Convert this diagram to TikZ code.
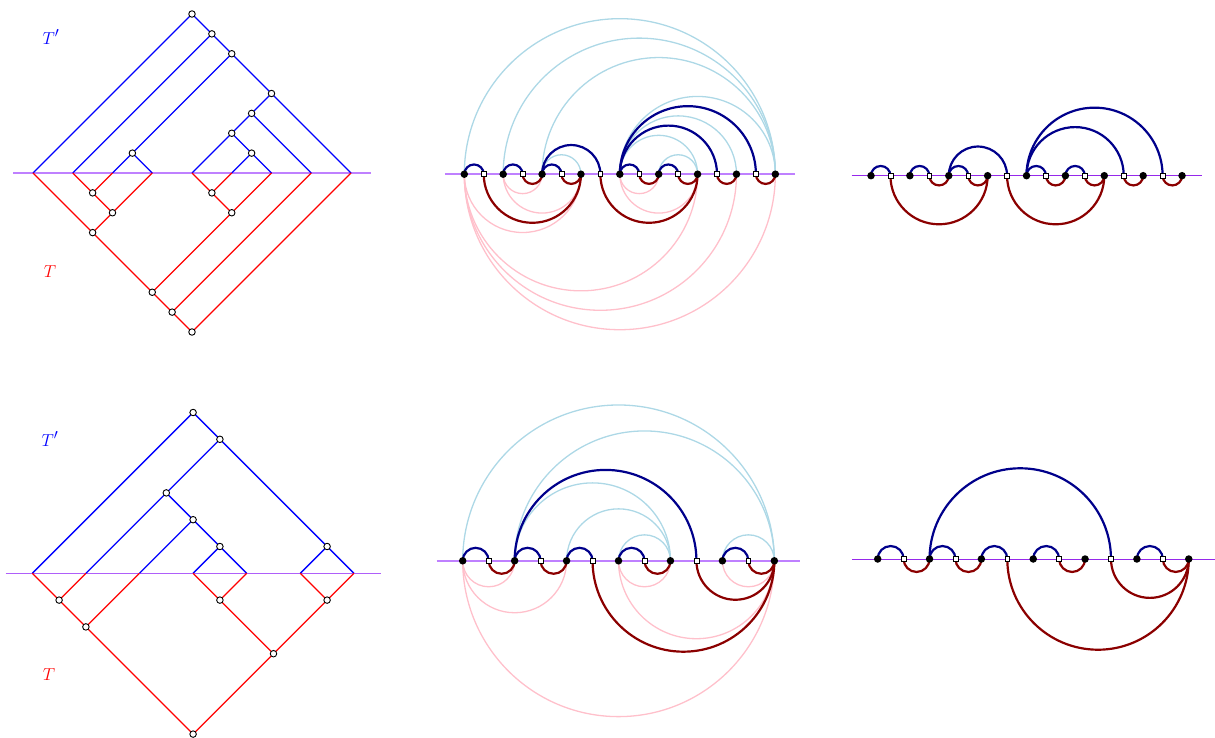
\documentclass[tikz,border=0pt]{standalone}
\usetikzlibrary{calc}
\pgfdeclarelayer{bg}
\pgfsetlayers{bg,main}
\definecolor{lpurple}{RGB}{191,128,255}
\definecolor{mpurple}{RGB}{175,95,250}
\definecolor{dpurple}{RGB}{150,40,235}
\definecolor{dblue}{RGB}{0,0,139}
\definecolor{dred}{RGB}{139,0,0}
\definecolor{lblue}{RGB}{173,216,230}
\definecolor{lpink}{RGB}{255,192,203}
\tikzset{
 tn/.style={circle,draw=black,fill=white,inner sep=0pt,minimum size=6.5pt,line width=0.9pt},
 bedge/.style={blue,line width=1.3pt},
 redge/.style={red,line width=1.3pt},
 base/.style={draw=lpurple,line width=1.5pt},
 midbase/.style={draw=mpurple,line width=1.3pt},
 thinbase/.style={draw=dpurple,line width=1pt},
 leafdot/.style={circle,fill=black,inner sep=0pt,minimum size=7.5pt},
 intsq/.style={rectangle,draw=black,fill=white,inner sep=0pt,minimum size=4.8pt,line width=0.6pt},
 darkb/.style={dblue,line width=2.2pt},
 darkr/.style={dred,line width=2.2pt},
 lightb/.style={lblue,line width=1.3pt},
 lightr/.style={lpink,line width=1.3pt},
 lab/.style={font=\fontsize{19}{22}\selectfont,inner sep=0pt}
}
\newcommand\arcsup[3]{\begin{pgfonlayer}{bg}\foreach \a/\b in {#3} {\draw[#1] let \p1=(#2\a.center), \p2=(#2\b.center) in (\p1) arc[start angle=180,end angle=0,radius={(\x2-\x1)/2}];}\end{pgfonlayer}}
\newcommand\arcsdown[3]{\begin{pgfonlayer}{bg}\foreach \a/\b in {#3} {\draw[#1] let \p1=(#2\a.center), \p2=(#2\b.center) in (\p1) arc[start angle=180,end angle=360,radius={(\x2-\x1)/2}];}\end{pgfonlayer}}
\newcommand\edges[3]{\begin{pgfonlayer}{bg}\foreach \a/\b in {#3} {\draw[#1] (#2\a.center) -- (#2\b.center);}\end{pgfonlayer}}
\begin{document}
\begin{tikzpicture}[x=1pt,y=-1pt]
\useasboundingbox (0,0) rectangle (1215,738);

% ---------- top-left trees ----------
\begin{scope}[shift={(33,173)},x=39.75pt,y=39.75pt]
 \foreach \i in {0,...,8} \coordinate (tl\i) at (\i,0);
 \coordinate (tlL) at (-0.5,0); \coordinate (tlR) at (8.5,0);
 \node[tn] (ta) at (4,4) {};
 \node[tn] (tb) at (4.5,3.5) {};
 \node[tn] (tc) at (5,3) {};
 \node[tn] (td) at (2.5,0.5) {};
 \node[tn] (te) at (6,2) {};
 \node[tn] (tf) at (5.5,1.5) {};
 \node[tn] (tg) at (5,1) {};
 \node[tn] (th) at (5.5,0.5) {};
 \node[tn] (ra) at (4,-4) {};
 \node[tn] (rb) at (3.5,-3.5) {};
 \node[tn] (rc) at (3,-3) {};
 \node[tn] (rd) at (1.5,-1.5) {};
 \node[tn] (re) at (2,-1) {};
 \node[tn] (rf) at (1.5,-0.5) {};
 \node[tn] (rg) at (5,-1) {};
 \node[tn] (rh) at (4.5,-0.5) {};
\end{scope}
\begin{pgfonlayer}{bg}\draw[base] (tlL) -- (tlR);\end{pgfonlayer}
\edges{bedge}{t}{l0/a,a/b,b/l1,b/c,c/d,d/l2,d/l3,c/e,e/f,e/l8,f/g,f/l7,g/l4,g/h,h/l5,h/l6}
\edges{redge}{r}{a/b,b/c,c/d,c/g,d/e,e/f,g/h}
\begin{pgfonlayer}{bg}
 \foreach \a/\b in {a/8,b/7,d/0,e/3,f/1,f/2,g/6,h/4,h/5} \draw[redge] (r\a.center) -- (tl\b);
\end{pgfonlayer}
\node[lab,text=blue] (tTp) at (51,37) {$T'$};
\node[lab,text=red] (tT) at (50,272) {$T$};

% ---------- bottom-left trees ----------
\begin{scope}[shift={(32.3,573.3)},x=53.6pt,y=53.6pt]
 \foreach \i in {0,...,6} \coordinate (bl\i) at (\i,0);
 \coordinate (blL) at (-0.5,0); \coordinate (blR) at (6.5,0);
 \node[tn] (ba) at (3,3) {};
 \node[tn] (bb) at (3.5,2.5) {};
 \node[tn] (bc) at (2.5,1.5) {};
 \node[tn] (bd) at (3,1) {};
 \node[tn] (be) at (3.5,0.5) {};
 \node[tn] (bf) at (5.5,0.5) {};
 \node[tn] (sa) at (3,-3) {};
 \node[tn] (sb) at (1,-1) {};
 \node[tn] (sc) at (0.5,-0.5) {};
 \node[tn] (sd) at (4.5,-1.5) {};
 \node[tn] (se) at (3.5,-0.5) {};
 \node[tn] (sf) at (5.5,-0.5) {};
\end{scope}
\begin{pgfonlayer}{bg}\draw[midbase] (blL) -- (blR);\end{pgfonlayer}
\edges{bedge}{b}{l0/a,a/b,b/c,b/f,c/l1,c/d,d/l2,d/e,e/l3,e/l4,f/l5,f/l6}
\edges{redge}{s}{a/b,a/d,b/c,d/e,d/f}
\begin{pgfonlayer}{bg}
 \foreach \a/\b in {b/2,c/0,c/1,e/3,e/4,f/5,f/6} \draw[redge] (s\a.center) -- (bl\b);
\end{pgfonlayer}
\node[lab,text=blue] (bTp) at (50,439) {$T'$};
\node[lab,text=red] (bT) at (49,675) {$T$};

% ---------- top-middle arc diagram ----------
\foreach \k in {0,2,...,16} \node[leafdot] (tm\k) at ({464.3+\k*19.44},174.2) {};
\foreach \k in {1,3,...,15} \node[intsq] (tm\k) at ({464.3+\k*19.44},174.2) {};
\coordinate (tmL) at (444.9,174.2); \coordinate (tmR) at (794.8,174.2);
\begin{pgfonlayer}{bg}\draw[base] (tmL) -- (tmR);\end{pgfonlayer}
\arcsup{lightb}{tm}{0/16,2/16,4/16,4/6,8/16,8/14,8/12,10/12}
\arcsdown{lightr}{tm}{0/16,0/14,0/12,0/6,2/6,2/4,8/12,8/10}
\arcsup{darkb}{tm}{0/1,2/3,4/5,4/7,8/9,10/11,8/13,8/15}
\arcsdown{darkr}{tm}{1/6,3/4,5/6,7/12,9/10,11/12,13/14,15/16}

% ---------- top-right arc diagram ----------
\foreach \k in {0,2,...,16} \node[leafdot] (tr\k) at ({871+\k*19.44},175.7) {};
\foreach \k in {1,3,...,15} \node[intsq] (tr\k) at ({871+\k*19.44},175.7) {};
\coordinate (trL) at (851.6,175.7); \coordinate (trR) at (1201.5,175.7);
\begin{pgfonlayer}{bg}\draw[thinbase] (trL) -- (trR);\end{pgfonlayer}
\arcsup{darkb}{tr}{0/1,2/3,4/5,4/7,8/9,10/11,8/13,8/15}
\arcsdown{darkr}{tr}{1/6,3/4,5/6,7/12,9/10,11/12,13/14,15/16}

% ---------- bottom-middle arc diagram ----------
\foreach \k in {0,2,...,12} \node[leafdot] (bm\k) at ({462.7+\k*25.97},560.8) {};
\foreach \k in {1,3,...,11} \node[intsq] (bm\k) at ({462.7+\k*25.97},560.8) {};
\coordinate (bmL) at (436.7,560.8); \coordinate (bmR) at (800.3,560.8);
\begin{pgfonlayer}{bg}\draw[base] (bmL) -- (bmR);\end{pgfonlayer}
\arcsup{lightb}{bm}{0/12,2/12,2/8,4/8,6/8,10/12}
\arcsdown{lightr}{bm}{0/12,0/4,0/2,6/12,6/8,10/12}
\arcsup{darkb}{bm}{0/1,2/3,4/5,6/7,2/9,10/11}
\arcsdown{darkr}{bm}{1/2,3/4,5/12,7/8,9/12,11/12}

% ---------- bottom-right arc diagram ----------
\foreach \k in {0,2,...,12} \node[leafdot] (br\k) at ({877.7+\k*25.92},559) {};
\foreach \k in {1,3,...,11} \node[intsq] (br\k) at ({877.7+\k*25.92},559) {};
\coordinate (brL) at (851.8,559); \coordinate (brR) at (1214.7,559);
\begin{pgfonlayer}{bg}\draw[thinbase] (brL) -- (brR);\end{pgfonlayer}
\arcsup{darkb}{br}{0/1,2/3,4/5,6/7,2/9,10/11}
\arcsdown{darkr}{br}{1/2,3/4,5/12,7/8,9/12,11/12}
\end{tikzpicture}
\end{document}
